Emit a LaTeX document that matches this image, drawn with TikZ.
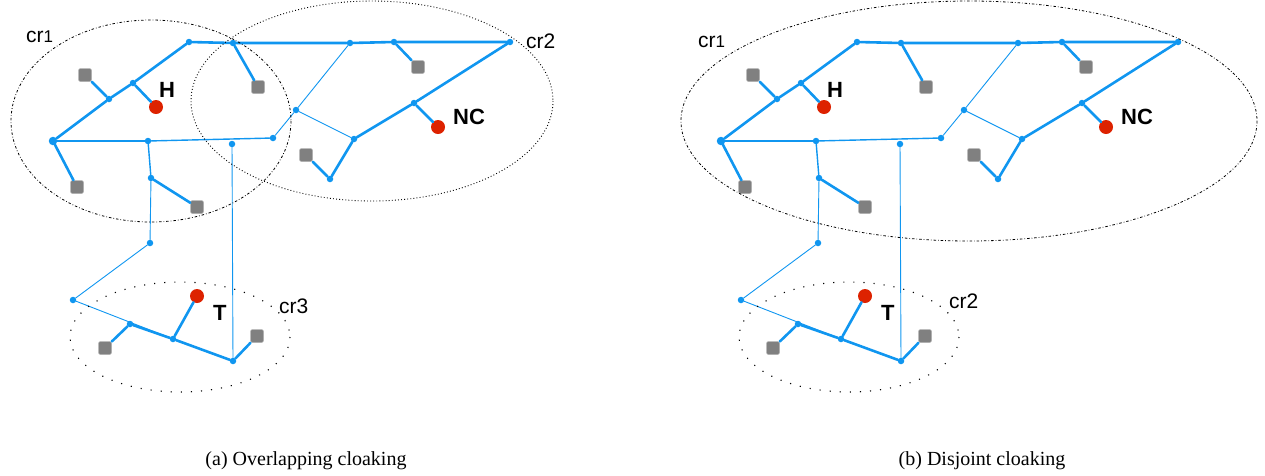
\documentclass[tikz,border=0pt]{standalone}
\usepackage{fontspec}
\setmainfont{Liberation Serif}
\setsansfont{Liberation Sans}
\definecolor{netblue}{RGB}{16,150,240}
\definecolor{hostred}{RGB}{221,34,0}
\definecolor{boxgray}{RGB}{128,128,128}
\tikzset{
  junc/.style={circle,fill=netblue,inner sep=0pt,minimum size=6.5pt},
  bigjunc/.style={junc,minimum size=8.5pt},
  host/.style={rectangle,rounded corners=2pt,fill=boxgray,draw=boxgray!60!white,line width=0.5pt,inner sep=0pt,minimum size=13pt},
  endpt/.style={circle,fill=hostred,inner sep=0pt,minimum size=14pt},
  heavy/.style={draw=netblue,line width=2.6pt,line cap=round},
  medium/.style={draw=netblue,line width=1.4pt,line cap=round},
  light/.style={draw=netblue,line width=0.9pt,line cap=round},
  boldlbl/.style={font=\fontsize{22}{24}\selectfont\sffamily\bfseries,inner sep=0pt,anchor=base west},
  crlbl/.style={font=\fontsize{21}{24}\selectfont\sffamily,inner sep=0pt,anchor=base west},
  caption/.style={font=\fontsize{20}{23}\selectfont,inner sep=0pt},
  ringdashdot/.style={draw=black,line width=0.8pt,dash pattern=on 2.5pt off 2pt on 0.7pt off 2pt},
  ringdot/.style={draw=black,line width=0.9pt,dash pattern=on 0.9pt off 2.2pt},
  ringsparse/.style={draw=black,line width=1.1pt,dash pattern=on 1.1pt off 9pt},
}
% a region index digit set a little smaller than the letters
\newcommand\smalldigit[1]{{\fontsize{17}{20}\selectfont #1}}
% the road network with its hosts, shared by both panels
\newcommand\roadnet{%
  \node[junc] (n1) at (189,42) {};
  \node[junc] (n2) at (233,43) {};
  \node[junc] (n3) at (350,43) {};
  \node[junc] (n4) at (394,42) {};
  \node[junc] (n5) at (510,42) {};
  \node[junc] (n6) at (133,83) {};
  \node[junc] (n7) at (109,99) {};
  \node[bigjunc] (n8) at (53,141) {};
  \node[junc] (n9) at (148,141) {};
  \node[junc] (n10) at (151,178) {};
  \node[junc] (n11) at (232,144) {};
  \node[junc] (n12) at (273,138) {};
  \node[junc] (n13) at (296,110) {};
  \node[junc] (n14) at (354,139) {};
  \node[junc] (n15) at (414,103) {};
  \node[junc] (n16) at (330,179) {};
  \node[junc] (n17) at (150,243) {};
  \node[junc] (n18) at (73,300) {};
  \node[junc] (n19) at (130,324) {};
  \node[junc] (n20) at (173,339) {};
  \node[junc] (n21) at (233,361) {};
  \node[host] (g1) at (85,75) {};
  \node[host] (g2) at (258,87) {};
  \node[host] (g3) at (418,67) {};
  \node[host] (g4) at (77,187) {};
  \node[host] (g5) at (197,207) {};
  \node[host] (g6) at (306,155) {};
  \node[host] (g7) at (105,348) {};
  \node[host] (g8) at (257,336) {};
  \node[endpt] (rh) at (156,107) {};
  \node[endpt] (rnc) at (438,127) {};
  \node[endpt] (rt) at (197,296) {};
  \node[boldlbl] (lh) at (159,97) {H};
  \node[boldlbl] (lnc) at (453,124) {NC};
  \node[boldlbl] (lt) at (213,320) {T};
  % main roads
  \draw[heavy] (n1) -- (n2) -- (n3) -- (n4) -- (n5);
  \draw[heavy] (n1) -- (n6) -- (n7) -- (n8);
  \draw[heavy] (n8) -- (n9);
  \draw[heavy] (n5) -- (n15) -- (n14) -- (n16);
  \draw[heavy] (n19) -- (n20) -- (n21);
  \draw[medium] (n9) -- (n10);
  \draw[medium] (n9) -- (n12);
  % minor roads
  \draw[light] (n12) -- (n13) -- (n3);
  \draw[light] (n13) -- (n14);
  \draw[light] (n11) -- (n21);
  \draw[light] (n10) -- (n17) -- (n18) -- (n20);
  % host links
  \draw[heavy] (n7) -- (g1);
  \draw[heavy] (n2) -- (g2);
  \draw[heavy] (n4) -- (g3);
  \draw[heavy] (n8) -- (g4);
  \draw[heavy] (n10) -- (g5);
  \draw[heavy] (n16) -- (g6);
  \draw[heavy] (n19) -- (g7);
  \draw[heavy] (n21) -- (g8);
  \draw[heavy] (n6) -- (rh);
  \draw[heavy] (n15) -- (rnc);
  \draw[heavy] (n20) -- (rt);
}
\begin{document}
\begin{tikzpicture}[x=1pt,y=-1pt]
  \useasboundingbox (0,0) rectangle (1265,475);
  % panel (a): overlapping regions
  \begin{scope}[name prefix=a-]
    \roadnet
    \draw[ringdashdot] (151,121) ellipse [x radius=140,y radius=101];
    \draw[ringdot] (372,101) ellipse [x radius=181,y radius=100];
    \draw[ringsparse] (180,337) ellipse [x radius=110,y radius=55];
    \node[crlbl] (c1) at (26,42) {cr\smalldigit{1}};
    \node[crlbl] (c2) at (526,48) {cr2};
    \node[crlbl] (c3) at (279,313) {cr3};
    \node[caption] (cap) at (306,461) {(a) Overlapping cloaking};
  \end{scope}
  % panel (b): disjoint regions
  \begin{scope}[name prefix=b-,shift={(668,0)}]
    \roadnet
    \draw[ringdashdot] (301,121) ellipse [x radius=288,y radius=120];
    \draw[ringsparse] (181,337) ellipse [x radius=110,y radius=55];
    \node[crlbl] (c1) at (30,47) {cr\smalldigit{1}};
    \node[crlbl] (c2) at (281,308) {cr2};
    \node[caption] (cap) at (314,461) {(b) Disjoint cloaking};
  \end{scope}
\end{tikzpicture}
\end{document}
